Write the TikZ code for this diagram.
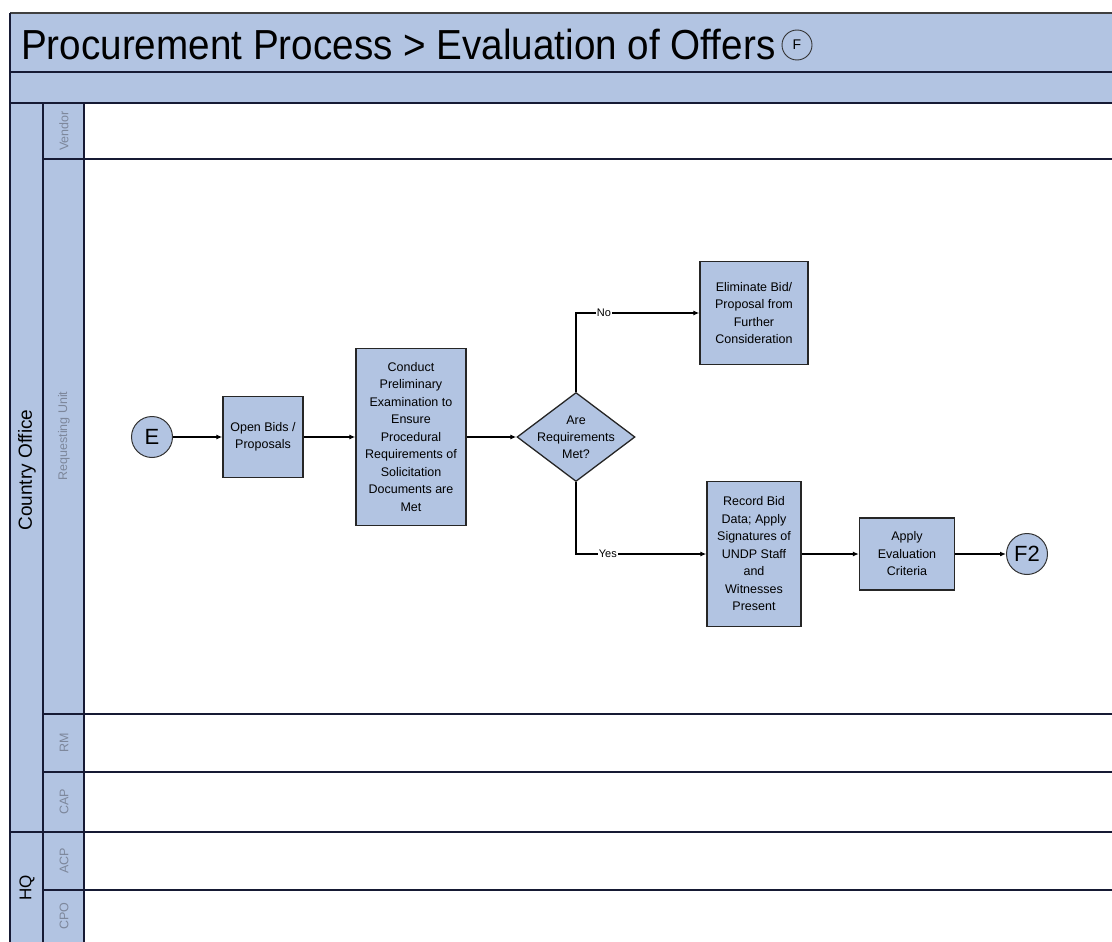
\documentclass[tikz,border=0pt]{standalone}
\usepackage{fontspec}
\setmainfont{Liberation Sans}
\usetikzlibrary{shapes.geometric,arrows.meta}
\definecolor{lanefill}{RGB}{178,196,226}
\definecolor{rule}{RGB}{22,26,52}
\definecolor{lanetext}{RGB}{125,135,155}

\begin{document}
\begin{tikzpicture}[x=1pt,y=-1pt,
  lanerule/.style={draw=rule,line width=1.4pt},
  proc/.style={draw=black!85,line width=1.3pt,fill=lanefill,align=center,
    font=\fontsize{12.5}{17.5}\selectfont,inner sep=0pt},
  decision/.style={diamond,draw=black!85,line width=1.3pt,fill=lanefill,
    minimum width=118pt,minimum height=89pt,inner sep=0pt},
  dtext/.style={align=center,font=\fontsize{12.5}{17}\selectfont,inner sep=0pt},
  connector/.style={circle,draw=black!80,line width=1pt,fill=lanefill,
    minimum size=41pt,inner sep=0pt,font=\fontsize{22}{22}\selectfont},
  flow/.style={draw=black,line width=1.2pt,-{Latex[length=6pt,width=5pt]}},
  branch/.style={fill=white,inner sep=1pt,font=\fontsize{11}{11}\selectfont},
  lanelabel/.style={rotate=90,text=lanetext,font=\fontsize{12.5}{12.5}\selectfont},
  grouplabel/.style={rotate=90,text=black,font=\fontsize{19}{19}\selectfont}
]
\useasboundingbox (0,0) rectangle (1112,942);

% header band and lane label columns
\fill[lanefill] (10,13) rectangle (1112,103);
\fill[lanefill] (10,103) rectangle (84,942);
\draw[draw=black!75,line width=2pt] (10,13) -- (1112,13);
\draw[lanerule] (10,72) -- (1112,72);
\draw[lanerule,line width=1.8pt] (10,103) -- (1112,103);
\draw[lanerule] (10,13) -- (10,942);
\draw[lanerule] (43,103) -- (43,942);
\draw[lanerule] (84,103) -- (84,942);

% lane separators
\draw[lanerule] (43,159) -- (1112,159);
\draw[lanerule] (43,714) -- (1112,714);
\draw[lanerule] (43,772) -- (1112,772);
\draw[lanerule] (10,832) -- (1112,832);
\draw[lanerule] (43,890) -- (1112,890);

% title
\node[anchor=base west,inner sep=0pt] (title) at (21,60)
  {\scalebox{0.92}[1]{\fontsize{42}{42}\selectfont Procurement Process > Evaluation of Offers}};
\node[circle,draw=black!80,line width=0.9pt,minimum size=30pt,inner sep=0pt,
  font=\fontsize{14}{14}\selectfont] (pageref) at (797,45) {F};

% lane labels
\node[grouplabel] (country) at (27,470) {Country Office};
\node[grouplabel,font=\fontsize{17}{17}\selectfont] (hq) at (27,888) {HQ};
\node[lanelabel] (vendor) at (64,131) {Vendor};
\node[lanelabel] (requnit) at (64,436) {Requesting Unit};
\node[lanelabel] (rm) at (64,743) {RM};
\node[lanelabel] (cap) at (64,802) {CAP};
\node[lanelabel] (acp) at (64,861) {ACP};
\node[lanelabel] (cpo) at (64,916) {CPO};

% process steps
\node[connector] (E) at (152,437) {E};
\node[proc,minimum width=80pt,minimum height=81pt] (open) at (263,437)
  {Open Bids /\\Proposals};
\node[proc,minimum width=110pt,minimum height=177pt] (conduct) at (411,437)
  {Conduct\\Preliminary\\Examination to\\Ensure\\Procedural\\Requirements of\\Solicitation\\Documents are\\Met};
\node[decision] (dia) at (576,437) {};
\node[dtext] (diatext) at (dia) {Are\\Requirements\\Met?};
\node[proc,minimum width=108pt,minimum height=103pt] (elim) at (754,313)
  {Eliminate Bid/\\Proposal from\\Further\\Consideration};
\node[proc,minimum width=94pt,minimum height=145pt] (record) at (754,554)
  {Record Bid\\Data; Apply\\Signatures of\\UNDP Staff\\and\\Witnesses\\Present};
\node[proc,minimum width=95pt,minimum height=72pt] (apply) at (907,554)
  {Apply\\Evaluation\\Criteria};
\node[connector] (F2) at (1027,554) {F2};

% connectors
\draw[flow] (E) -- (open);
\draw[flow] (open) -- (conduct);
\draw[flow] (conduct) -- (dia);
\draw[flow] (dia.north) |- node[branch,pos=0.613] (nolabel) {No} (elim);
\draw[flow] (dia.south) |- node[branch,pos=0.622] (yeslabel) {Yes} (record);
\draw[flow] (record) -- (apply);
\draw[flow] (apply) -- (F2);
\end{tikzpicture}
\end{document}
